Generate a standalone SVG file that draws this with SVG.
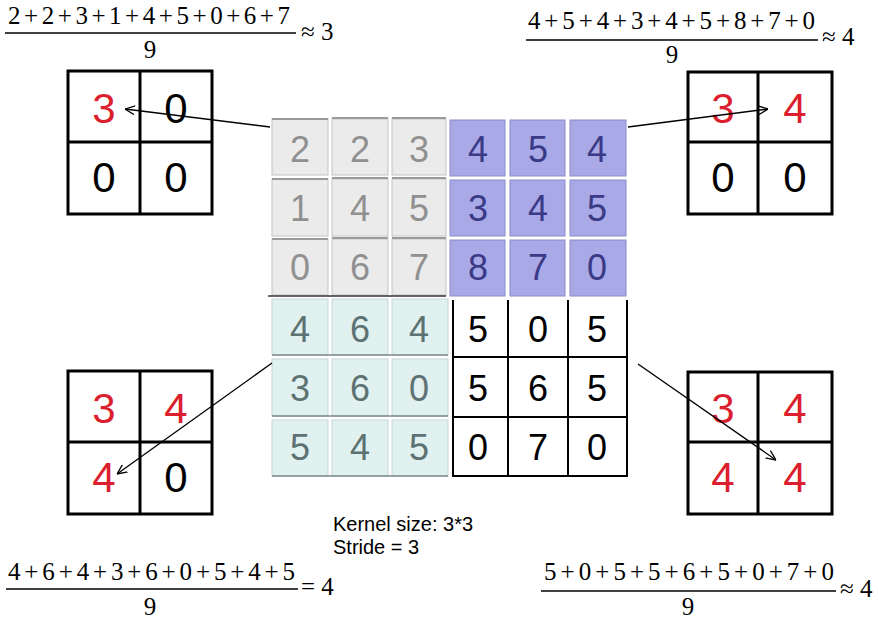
<svg xmlns="http://www.w3.org/2000/svg" width="878" height="622" viewBox="0 0 878 622">
<style>
.bg{fill:#ffffff}
.g{fill:#ebebeb;stroke:#c4c4c4;stroke-width:1}
.gt{stroke:#9a9a9a;stroke-width:2}
.p{fill:#a9a9e8;stroke:#8a8ac8;stroke-width:1}
.t{fill:#e0f1f0;stroke:#c6d6d6;stroke-width:1}
.tb{stroke:#7a8a8a;stroke-width:1.5}
.bl{stroke:#000;stroke-width:2;fill:none}
.num{font-family:"Liberation Sans",Arial,sans-serif;font-size:36px;text-anchor:middle}
.ng{fill:#909090}
.np{fill:#3a3a86}
.nt{fill:#5d7272}
.nk{fill:#000}
.sg{fill:#fff;stroke:#000;stroke-width:3}
.sl{stroke:#000;stroke-width:3}
.sn{font-family:"Liberation Sans",Arial,sans-serif;font-size:42px;text-anchor:middle}
.red{fill:#dc1f2e}
.blk{fill:#000}
.f{font-family:"Liberation Serif","Times New Roman",serif;font-size:25px;fill:#000}
.fc{text-anchor:middle}
.fl{stroke:#000;stroke-width:1.5}
.lab{font-family:"Liberation Sans",Arial,sans-serif;font-size:20px;fill:#000}
.arr{stroke:#000;stroke-width:1.3;fill:none;marker-end:url(#ah)}
</style>
<defs>
<marker id="ah" viewBox="0 0 10 10" refX="10" refY="5" markerWidth="10" markerHeight="10" markerUnits="userSpaceOnUse" orient="auto">
<path d="M0,0.5 L10,5 L0,9.5" fill="none" stroke="#000" stroke-width="1.3"/>
</marker>
</defs>
<rect class="bg" x="0" y="0" width="878" height="622"/>

<g id="input-grid">
  <rect class="g" x="272" y="119" width="56" height="56"/>
  <rect class="g" x="332" y="119" width="56" height="56"/>
  <rect class="g" x="392" y="119" width="54" height="56"/>
  <rect class="g" x="272" y="179" width="56" height="57"/>
  <rect class="g" x="332" y="179" width="56" height="57"/>
  <rect class="g" x="392" y="179" width="54" height="57"/>
  <rect class="g" x="272" y="239" width="56" height="56"/>
  <rect class="g" x="332" y="239" width="56" height="56"/>
  <rect class="g" x="392" y="239" width="54" height="56"/>
  <line class="gt" x1="272" y1="119" x2="328" y2="119"/>
  <line class="gt" x1="332" y1="118" x2="388" y2="118"/>
  <line class="gt" x1="392" y1="118" x2="446" y2="118"/>
  <line class="gt" x1="272" y1="179" x2="328" y2="179"/>
  <line class="gt" x1="332" y1="178" x2="388" y2="178"/>
  <line class="gt" x1="392" y1="178" x2="446" y2="178"/>
  <line class="gt" x1="272" y1="239" x2="328" y2="239"/>
  <line class="gt" x1="332" y1="238" x2="388" y2="238"/>
  <line class="gt" x1="392" y1="238" x2="446" y2="238"/>
  <rect class="p" x="450" y="120" width="55" height="56"/>
  <rect class="p" x="510" y="120" width="55" height="56"/>
  <rect class="p" x="570" y="120" width="56" height="56"/>
  <rect class="p" x="450" y="180" width="55" height="56"/>
  <rect class="p" x="510" y="180" width="55" height="56"/>
  <rect class="p" x="570" y="180" width="56" height="56"/>
  <rect class="p" x="450" y="240" width="55" height="56"/>
  <rect class="p" x="510" y="240" width="55" height="56"/>
  <rect class="p" x="570" y="240" width="56" height="56"/>
  <rect class="t" x="272" y="299" width="56" height="56"/>
  <rect class="t" x="332" y="299" width="56" height="56"/>
  <rect class="t" x="392" y="299" width="56" height="56"/>
  <rect class="t" x="272" y="359" width="56" height="57"/>
  <rect class="t" x="332" y="359" width="56" height="57"/>
  <rect class="t" x="392" y="359" width="56" height="57"/>
  <rect class="t" x="272" y="420" width="56" height="56"/>
  <rect class="t" x="332" y="420" width="56" height="56"/>
  <rect class="t" x="392" y="420" width="56" height="56"/>
  <line class="tb" x1="272" y1="355" x2="448" y2="355"/>
  <line class="tb" x1="272" y1="416" x2="448" y2="416"/>
  <line class="tb" x1="272" y1="476" x2="448" y2="476"/>
  <line x1="268" y1="296" x2="446" y2="296" stroke="#333" stroke-width="1.5"/>
  <line class="bl" x1="453" y1="300" x2="453" y2="477"/>
  <line class="bl" x1="508" y1="300" x2="508" y2="477"/>
  <line class="bl" x1="568" y1="300" x2="568" y2="477"/>
  <line class="bl" x1="627" y1="300" x2="627" y2="477"/>
  <line class="bl" x1="453" y1="357" x2="627" y2="357"/>
  <line class="bl" x1="453" y1="417" x2="627" y2="417"/>
  <line class="bl" x1="453" y1="476" x2="627" y2="476"/>
  <g class="num ng">
    <text x="300" y="162">2</text><text x="360" y="162">2</text><text x="419" y="162">3</text>
    <text x="300" y="221">1</text><text x="360" y="221">4</text><text x="419" y="221">5</text>
    <text x="300" y="280">0</text><text x="360" y="280">6</text><text x="419" y="280">7</text>
  </g>
  <g class="num np">
    <text x="478" y="162">4</text><text x="538" y="162">5</text><text x="597" y="162">4</text>
    <text x="478" y="221">3</text><text x="538" y="221">4</text><text x="597" y="221">5</text>
    <text x="478" y="280">8</text><text x="538" y="280">7</text><text x="597" y="280">0</text>
  </g>
  <g class="num nt">
    <text x="300" y="342">4</text><text x="360" y="342">6</text><text x="419" y="342">4</text>
    <text x="300" y="401">3</text><text x="360" y="401">6</text><text x="419" y="401">0</text>
    <text x="300" y="460">5</text><text x="360" y="460">4</text><text x="419" y="460">5</text>
  </g>
  <g class="num nk">
    <text x="478" y="342">5</text><text x="538" y="342">0</text><text x="597" y="342">5</text>
    <text x="478" y="401">5</text><text x="538" y="401">6</text><text x="597" y="401">5</text>
    <text x="478" y="460">0</text><text x="538" y="460">7</text><text x="597" y="460">0</text>
  </g>
</g>

<g id="out-top-left">
  <rect class="sg" x="68" y="71" width="144" height="143"/>
  <line class="sl" x1="140" y1="71" x2="140" y2="214"/>
  <line class="sl" x1="68" y1="142" x2="212" y2="142"/>
  <text class="sn red" x="104" y="123">3</text>
  <text class="sn blk" x="176" y="123">0</text>
  <text class="sn blk" x="104" y="192">0</text>
  <text class="sn blk" x="176" y="192">0</text>
</g>

<g id="out-top-right">
  <rect class="sg" x="688" y="72" width="144" height="142"/>
  <line class="sl" x1="758" y1="72" x2="758" y2="214"/>
  <line class="sl" x1="688" y1="142" x2="832" y2="142"/>
  <text class="sn red" x="723" y="123">3</text>
  <text class="sn red" x="795" y="123">4</text>
  <text class="sn blk" x="723" y="192">0</text>
  <text class="sn blk" x="795" y="192">0</text>
</g>

<g id="out-bottom-left">
  <rect class="sg" x="68" y="371" width="144" height="143"/>
  <line class="sl" x1="140" y1="371" x2="140" y2="514"/>
  <line class="sl" x1="68" y1="442" x2="212" y2="442"/>
  <text class="sn red" x="104" y="423">3</text>
  <text class="sn red" x="176" y="423">4</text>
  <text class="sn red" x="104" y="492">4</text>
  <text class="sn blk" x="176" y="492">0</text>
</g>

<g id="out-bottom-right">
  <rect class="sg" x="688" y="372" width="144" height="142"/>
  <line class="sl" x1="758" y1="372" x2="758" y2="514"/>
  <line class="sl" x1="688" y1="442" x2="832" y2="442"/>
  <text class="sn red" x="723" y="423">3</text>
  <text class="sn red" x="795" y="423">4</text>
  <text class="sn red" x="723" y="492">4</text>
  <text class="sn red" x="795" y="492">4</text>
</g>

<g id="formula-top-left">
  <text class="f" x="8" y="24" textLength="282" lengthAdjust="spacing">2 + 2 + 3 + 1 + 4 + 5 + 0 + 6 + 7</text>
  <line class="fl" x1="5" y1="33" x2="296" y2="33"/>
  <text class="f fc" x="150" y="58">9</text>
  <text class="f" x="301" y="40">≈ 3</text>
</g>

<g id="formula-top-right">
  <text class="f" x="528" y="29" textLength="287" lengthAdjust="spacing">4 + 5 + 4 + 3 + 4 + 5 + 8 + 7 + 0</text>
  <line class="fl" x1="526" y1="40" x2="818" y2="40"/>
  <text class="f fc" x="672" y="63">9</text>
  <text class="f" x="822" y="45">≈ 4</text>
</g>

<g id="formula-bottom-left">
  <text class="f" x="8" y="580" textLength="287" lengthAdjust="spacing">4 + 6 + 4 + 3 + 6 + 0 + 5 + 4 + 5</text>
  <line class="fl" x1="6" y1="589" x2="298" y2="589"/>
  <text class="f fc" x="150" y="615">9</text>
  <text class="f" x="301" y="595">= 4</text>
</g>

<g id="formula-bottom-right">
  <text class="f" x="544" y="580" textLength="290" lengthAdjust="spacing">5 + 0 + 5 + 5 + 6 + 5 + 0 + 7 + 0</text>
  <line class="fl" x1="541" y1="591" x2="836" y2="591"/>
  <text class="f fc" x="688" y="615">9</text>
  <text class="f" x="840" y="597">≈ 4</text>
</g>

<g id="kernel-label">
  <text class="lab" x="333" y="531">Kernel size: 3*3</text>
  <text class="lab" x="333" y="554">Stride = 3</text>
</g>

<g id="connectors">
  <line class="arr" x1="270" y1="127" x2="125" y2="109"/>
  <line class="arr" x1="628" y1="127" x2="768" y2="109"/>
  <line class="arr" x1="272" y1="363" x2="117" y2="474"/>
  <line class="arr" x1="638" y1="364" x2="776" y2="460"/>
</g>
</svg>
